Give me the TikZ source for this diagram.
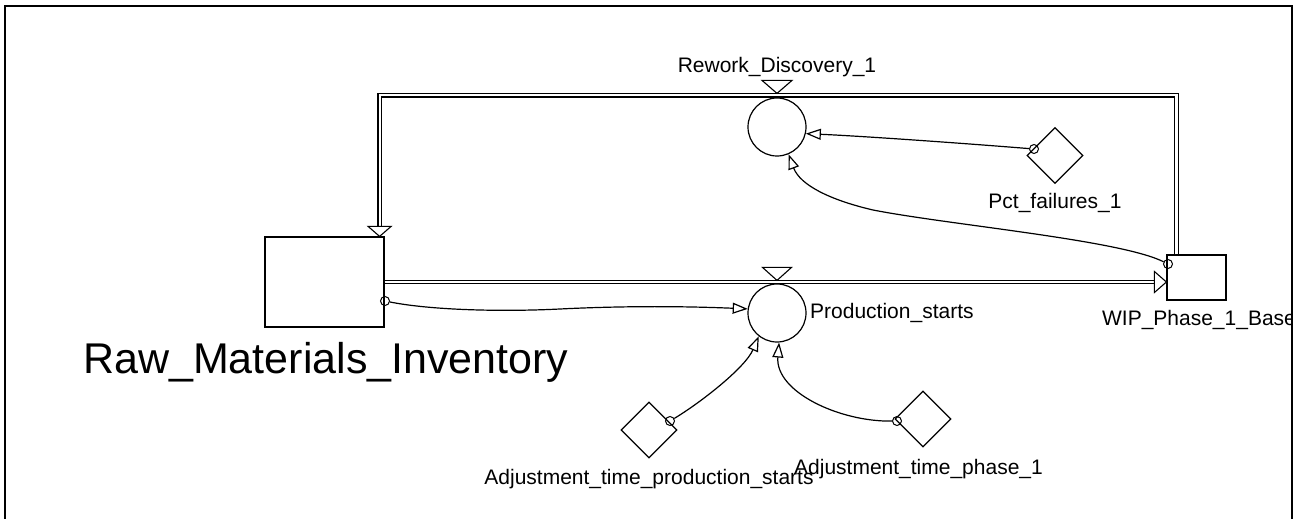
\documentclass[tikz,border=0pt]{standalone}
\usepackage{fontspec}
\setmainfont{Liberation Sans}
\usetikzlibrary{shapes.geometric,arrows.meta,calc}
\begin{document}
\begin{tikzpicture}[x=1pt,y=-1pt,
  stock/.style={draw, rectangle, line width=1.2pt, inner sep=0pt, fill=white},
  flowc/.style={draw, circle, minimum size=58pt, inner sep=0pt, line width=1.2pt},
  aux/.style={draw, diamond, minimum width=56pt, minimum height=56pt, inner sep=0pt, line width=1.2pt},
  lbl/.style={font=\fontsize{21}{25}\selectfont, inner sep=0pt},
  big/.style={font=\fontsize{43}{50}\selectfont, inner sep=0pt},
  conn/.style={line width=1.2pt, -{Triangle[open,length=15pt,width=11pt]}},
  pipe/.style={draw, double=white, double distance=2.2pt, line width=1.1pt, line join=miter},
  head/.style={draw, fill=white, line width=1.1pt, line join=miter},
  src/.style={draw, circle, minimum size=9pt, inner sep=0pt, line width=1pt}]
\useasboundingbox (0,0) rectangle (1302,519);
\begin{scope}
\clip (5,6) rectangle (1292,519);
% stocks
\node[stock, minimum width=119pt, minimum height=90pt] (raw) at (324.5,282) {};
\node[stock, minimum width=59pt, minimum height=45pt] (wip) at (1196.5,277.5) {};
% flows
\node[flowc] (prod) at (777,313) {};
\node[flowc] (rew) at (777,127) {};
% auxiliaries
\node[aux] (pct) at (1055,155.5) {};
\node[aux] (adjp) at (649,430) {};
\node[aux] (adjf) at (923,419) {};
% pipes
\coordinate (pend) at (wip.west |- raw.east);
\draw[pipe] (raw.east) -- ($(pend)+(-11,0)$);
\draw[head] (pend) -- ++(-12,-10.5) -- ++(0,21) -- cycle;
\coordinate (w1) at ($(wip.north west)+(10,0)$);
\coordinate (r1) at ($(raw.north east)+(-5,0)$);
\coordinate (top) at ($(rew.north)+(0,-2)$);
\draw[pipe] (w1) -- (w1 |- top) -- (r1 |- top) -- ($(r1)+(0,-10)$);
\draw[head] (r1) -- ++(-11.5,-10) -- ++(23,0) -- cycle;
% valves
\draw[head] ($(rew.north)+(0,-4)$) -- ++(-15,-13) -- ++(30,0) -- cycle;
\draw[head] ($(prod.north)+(0,-3)$) -- ++(-14.5,-13) -- ++(29,0) -- cycle;
% connector sources
\node[src] (s1) at (385,301) {};
\node[src] (s2) at (670,421) {};
\node[src] (s3) at (897,421) {};
\node[src] (s4) at (1034,149) {};
\node[src] (s5) at (1168,264) {};
% connectors
\draw[conn] (s1) .. controls (430,310) and (500,312) .. (560,309) .. controls (620,306) and (680,306) .. (prod.172);
\draw[conn] (s2) .. controls (700,403) and (745,368) .. (prod.232);
\draw[conn] (s3) .. controls (840,422) and (775,392) .. (prod.274);
\draw[conn] (s4) .. controls (960,143) and (860,136) .. (rew.347);
\draw[conn] (s5) .. controls (1120,240) and (950,225) .. (873,210) .. controls (830,200) and (800,185) .. (rew.293);
% labels
\node[lbl, anchor=base] (lrew) at (777,73) {Rework\_Discovery\_1};
\node[lbl, anchor=base west] (lprod) at (810,318) {Production\_starts};
\node[lbl, anchor=base] (lwip) at (1199,325) {WIP\_Phase\_1\_Base};
\node[lbl, anchor=base] (lpct) at (1055,208) {Pct\_failures\_1};
\node[lbl, anchor=base] (ladjp) at (649,484) {Adjustment\_time\_production\_starts};
\node[lbl, anchor=base] (ladjf) at (918.5,474) {Adjustment\_time\_phase\_1};
\node[big, anchor=base west] (lraw) at (83,373) {Raw\_Materials\_Inventory};
\end{scope}
\draw[line width=2pt] (5,530) -- (5,6) -- (1292,6) -- (1292,530);
\end{tikzpicture}
\end{document}
